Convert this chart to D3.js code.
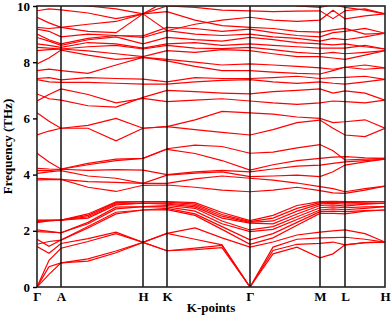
<!DOCTYPE html>
<html>
<head>
<meta charset="utf-8">
<script src="https://cdn.jsdelivr.net/npm/d3@7"></script>
<style>
  body { margin: 0; background: #fff; }
  svg text { font-family: "Liberation Serif", "Times New Roman", serif; font-weight: bold; }
</style>
</head>
<body>
<div id="chart"></div>
<script>
// path along the Brillouin zone: sample positions (arbitrary distance units)
const kSamples = [0, 12, 24, 51, 79, 106, 130, 158, 185, 213, 236, 260, 283, 296, 308, 328, 348];
const kLabels = ["Γ", "A", "H", "K", "Γ", "M", "L", "H"];
const kPoints = [0, 24, 106, 130, 213, 283, 308, 348];
const yTicks = [0, 2, 4, 6, 8, 10];

// columns: Γ, ΓA, A, AH, AH, H, K, KΓ, KΓ, Γ, ΓM, ΓM, M, ML, L, LH, H  (THz)
const lowBands = [
    [0, 0.45, 0.86, 0.92, 1.22, 1.59, 1.29, 1.33, 1.40, 0, 1.18, 1.42, 1.04, 1.18, 1.50, 1.58, 1.60],
    [0, 0.72, 0.86, 1.00, 1.28, 1.59, 1.29, 1.38, 1.48, 0, 1.30, 1.52, 1.55, 1.60, 1.50, 1.58, 1.60],
    [0, 0.95, 1.38, 1.62, 1.90, 1.59, 1.91, 1.70, 1.50, 0, 1.42, 1.70, 1.75, 1.76, 1.77, 1.70, 1.60],
    [1.44, 1.20, 1.55, 1.72, 1.95, 1.59, 1.91, 2.10, 1.75, 1.42, 1.60, 1.85, 1.95, 2.00, 2.03, 1.90, 1.60],
    [1.52, 1.62, 1.67, 2.10, 2.60, 2.74, 2.75, 2.55, 2.05, 1.52, 1.75, 2.20, 2.62, 2.62, 2.60, 2.70, 2.74],
    [1.70, 1.45, 1.67, 2.15, 2.66, 2.74, 2.80, 2.60, 2.15, 1.68, 1.90, 2.30, 2.68, 2.70, 2.68, 2.72, 2.74],
    [1.97, 1.95, 1.93, 2.25, 2.78, 2.86, 2.85, 2.70, 2.25, 1.97, 2.05, 2.40, 2.74, 2.78, 2.75, 2.80, 2.86],
    [2.03, 1.98, 1.93, 2.30, 2.84, 2.86, 2.90, 2.80, 2.35, 2.03, 2.15, 2.50, 2.82, 2.85, 2.82, 2.85, 2.86],
    [2.29, 2.35, 2.38, 2.45, 2.92, 2.98, 2.95, 2.85, 2.45, 2.27, 2.25, 2.60, 2.90, 2.92, 2.88, 2.95, 2.98],
    [2.33, 2.36, 2.38, 2.50, 2.96, 2.98, 2.98, 2.90, 2.52, 2.30, 2.35, 2.70, 2.96, 2.98, 2.95, 2.97, 2.98],
    [2.36, 2.37, 2.38, 2.55, 3.00, 3.04, 3.02, 2.95, 2.58, 2.33, 2.45, 2.80, 3.00, 3.02, 3.00, 3.02, 3.04],
    [2.38, 2.38, 2.38, 2.60, 3.03, 3.04, 3.04, 3.00, 2.65, 2.36, 2.55, 2.90, 3.04, 3.05, 3.04, 3.04, 3.04]
];

const midBands = [
    [3.81, 3.82, 3.83, 3.55, 3.40, 3.62, 3.63, 3.55, 3.45, 3.39, 3.45, 3.55, 3.43, 3.35, 3.33, 3.45, 3.59],
    [3.87, 3.85, 3.83, 3.75, 3.72, 3.69, 3.69, 3.85, 3.95, 3.87, 3.80, 3.70, 3.57, 3.50, 3.39, 3.50, 3.59],
    [4.04, 4.10, 4.14, 3.95, 3.87, 3.69, 3.98, 4.05, 4.10, 3.93, 3.95, 3.98, 3.93, 4.10, 4.34, 4.45, 4.55],
    [4.14, 4.14, 4.19, 4.15, 4.18, 4.16, 4.00, 4.10, 4.15, 4.10, 4.20, 4.30, 4.34, 4.40, 4.45, 4.50, 4.55],
    [4.22, 4.20, 4.19, 4.35, 4.50, 4.58, 4.90, 4.75, 4.50, 4.16, 4.35, 4.50, 4.58, 4.62, 4.64, 4.60, 4.58],
    [4.76, 4.45, 4.20, 4.40, 4.55, 4.58, 4.92, 5.05, 5.00, 4.76, 4.80, 4.95, 5.07, 4.85, 4.52, 4.55, 4.58]
];

const highBands = [
    [5.41, 5.55, 5.65, 5.65, 5.20, 5.65, 5.71, 5.60, 5.50, 5.41, 5.60, 5.85, 5.94, 5.65, 5.41, 5.35, 5.65],
    [6.20, 5.90, 5.65, 5.75, 6.00, 5.65, 5.71, 5.95, 6.25, 6.20, 6.15, 6.05, 6.00, 5.85, 5.88, 5.95, 5.65],
    [6.62, 6.85, 7.05, 6.85, 6.55, 6.71, 6.60, 6.65, 6.70, 6.62, 6.55, 6.50, 6.55, 6.62, 6.60, 6.55, 6.65],
    [6.87, 6.70, 6.65, 6.45, 6.40, 6.75, 7.00, 6.95, 6.90, 6.87, 6.95, 7.00, 7.05, 6.90, 6.98, 6.90, 6.65],
    [7.38, 7.30, 7.28, 7.28, 7.25, 7.22, 7.22, 7.30, 7.35, 7.38, 7.30, 7.25, 7.30, 7.25, 7.22, 7.30, 7.39],
    [7.42, 7.45, 7.37, 7.45, 7.42, 7.40, 7.30, 7.45, 7.42, 7.42, 7.45, 7.50, 7.42, 7.45, 7.46, 7.50, 7.39],
    [7.70, 7.75, 7.70, 7.60, 7.90, 8.17, 8.05, 7.85, 7.70, 7.70, 7.65, 7.60, 7.58, 7.70, 7.82, 7.90, 7.80],
    [7.94, 8.15, 8.43, 8.25, 8.10, 8.17, 8.10, 8.00, 7.90, 7.94, 7.90, 7.85, 7.80, 7.75, 7.82, 7.75, 7.80],
    [8.41, 8.45, 8.47, 8.40, 8.30, 8.20, 8.41, 8.35, 8.45, 8.41, 8.30, 8.20, 8.20, 8.15, 8.10, 8.25, 8.41],
    [8.53, 8.50, 8.47, 8.55, 8.60, 8.47, 8.60, 8.50, 8.48, 8.53, 8.45, 8.35, 8.30, 8.35, 8.30, 8.35, 8.41],
    [8.65, 8.60, 8.53, 8.70, 8.65, 8.50, 8.65, 8.70, 8.60, 8.65, 8.60, 8.55, 8.50, 8.50, 8.50, 8.60, 8.47],
    [8.88, 8.75, 8.60, 8.80, 8.90, 8.65, 8.88, 8.80, 8.75, 8.88, 8.80, 8.70, 8.65, 8.62, 8.65, 8.55, 8.47],
    [9.00, 8.80, 8.65, 8.85, 8.95, 8.88, 9.12, 9.00, 8.95, 9.00, 8.90, 8.85, 8.75, 8.85, 8.80, 8.90, 9.03],
    [9.18, 9.10, 8.90, 9.00, 8.95, 8.94, 9.24, 9.20, 9.10, 9.18, 9.05, 8.95, 8.90, 9.05, 9.10, 9.20, 9.03],
    [9.24, 9.20, 9.24, 9.35, 9.45, 9.72, 9.80, 9.50, 9.30, 9.24, 9.20, 9.10, 9.07, 9.15, 9.20, 9.00, 9.03],
    [9.60, 9.40, 9.24, 9.10, 9.05, 9.72, 9.12, 9.35, 9.50, 9.60, 9.50, 9.45, 9.50, 9.85, 9.54, 9.65, 9.72],
    [9.83, 9.90, 9.86, 9.75, 9.55, 9.72, 10.0, 9.95, 9.85, 9.83, 9.80, 9.82, 9.83, 9.55, 9.83, 9.90, 9.72],
    [10.3, 10.2, 10.1, 10.0, 9.90, 9.72, 10.2, 10.3, 10.3, 10.3, 10.2, 10.0, 9.95, 10.05, 9.95, 9.85, 9.72]
];

const bands = [...lowBands, ...midBands, ...highBands];

const width = 392;
const height = 315;
const margin = { top: 6, right: 7, bottom: 28, left: 37 };

const svg = d3.select("#chart")
              .append("svg")
              .attr("width", width)
              .attr("height", height);

const x = d3.scaleLinear()
            .domain([0, 348])
            .range([margin.left, width - margin.right]);

const y = d3.scaleLinear()
            .domain([0, 10])
            .range([height - margin.bottom, margin.top]);

svg.append("clipPath")
   .attr("id", "plot-clip")
   .append("rect")
   .attr("x", margin.left)
   .attr("y", margin.top)
   .attr("width", width - margin.left - margin.right)
   .attr("height", height - margin.top - margin.bottom);

const line = d3.line()
               .x((d, i) => x(kSamples[i]))
               .y(d => y(d));

svg.append("g")
   .attr("clip-path", "url(#plot-clip)")
   .selectAll("path")
   .data(bands)
   .enter().append("path")
   .attr("d", line)
   .attr("fill", "none")
   .attr("stroke", "#ff0000")
   .attr("stroke-width", 1.2);

// high-symmetry lines
svg.append("g")
   .selectAll("line")
   .data(kPoints.slice(1, -1))
   .enter().append("line")
   .attr("x1", d => x(d))
   .attr("x2", d => x(d))
   .attr("y1", margin.top)
   .attr("y2", height - margin.bottom)
   .attr("stroke", "#000")
   .attr("stroke-width", 1.4);

svg.append("rect")
   .attr("x", margin.left)
   .attr("y", margin.top)
   .attr("width", width - margin.left - margin.right)
   .attr("height", height - margin.top - margin.bottom)
   .attr("fill", "none")
   .attr("stroke", "#222")
   .attr("stroke-width", 1.6);

const yAxis = svg.append("g")
                 .attr("transform", `translate(${margin.left},0)`)
                 .call(d3.axisLeft(y).tickValues(yTicks).tickSize(4).tickPadding(3));

yAxis.select(".domain").remove();
yAxis.selectAll("line").attr("stroke", "#000").attr("stroke-width", 1.4);
yAxis.selectAll("text")
     .style("font-size", "13px")
     .style("font-family", "'Liberation Serif', serif")
     .style("font-weight", "bold")
     .attr("fill", "#000");

const xAxis = svg.append("g")
                 .attr("transform", `translate(0,${height - margin.bottom})`)
                 .call(d3.axisBottom(x).tickValues(kPoints).tickFormat((d, i) => kLabels[i]).tickSize(0).tickPadding(5));

xAxis.select(".domain").remove();
xAxis.selectAll("text")
     .style("font-size", "13px")
     .style("font-family", "'Liberation Serif', serif")
     .style("font-weight", "bold")
     .attr("fill", "#000");

svg.append("text")
   .attr("x", (margin.left + width - margin.right) / 2)
   .attr("y", height - 3)
   .attr("text-anchor", "middle")
   .style("font-size", "13px")
   .text("K-points");

svg.append("text")
   .attr("transform", `translate(12, ${(margin.top + height - margin.bottom) / 2}) rotate(-90)`)
   .attr("text-anchor", "middle")
   .style("font-size", "13px")
   .text("Frequency (THz)");
</script>
</body>
</html>
